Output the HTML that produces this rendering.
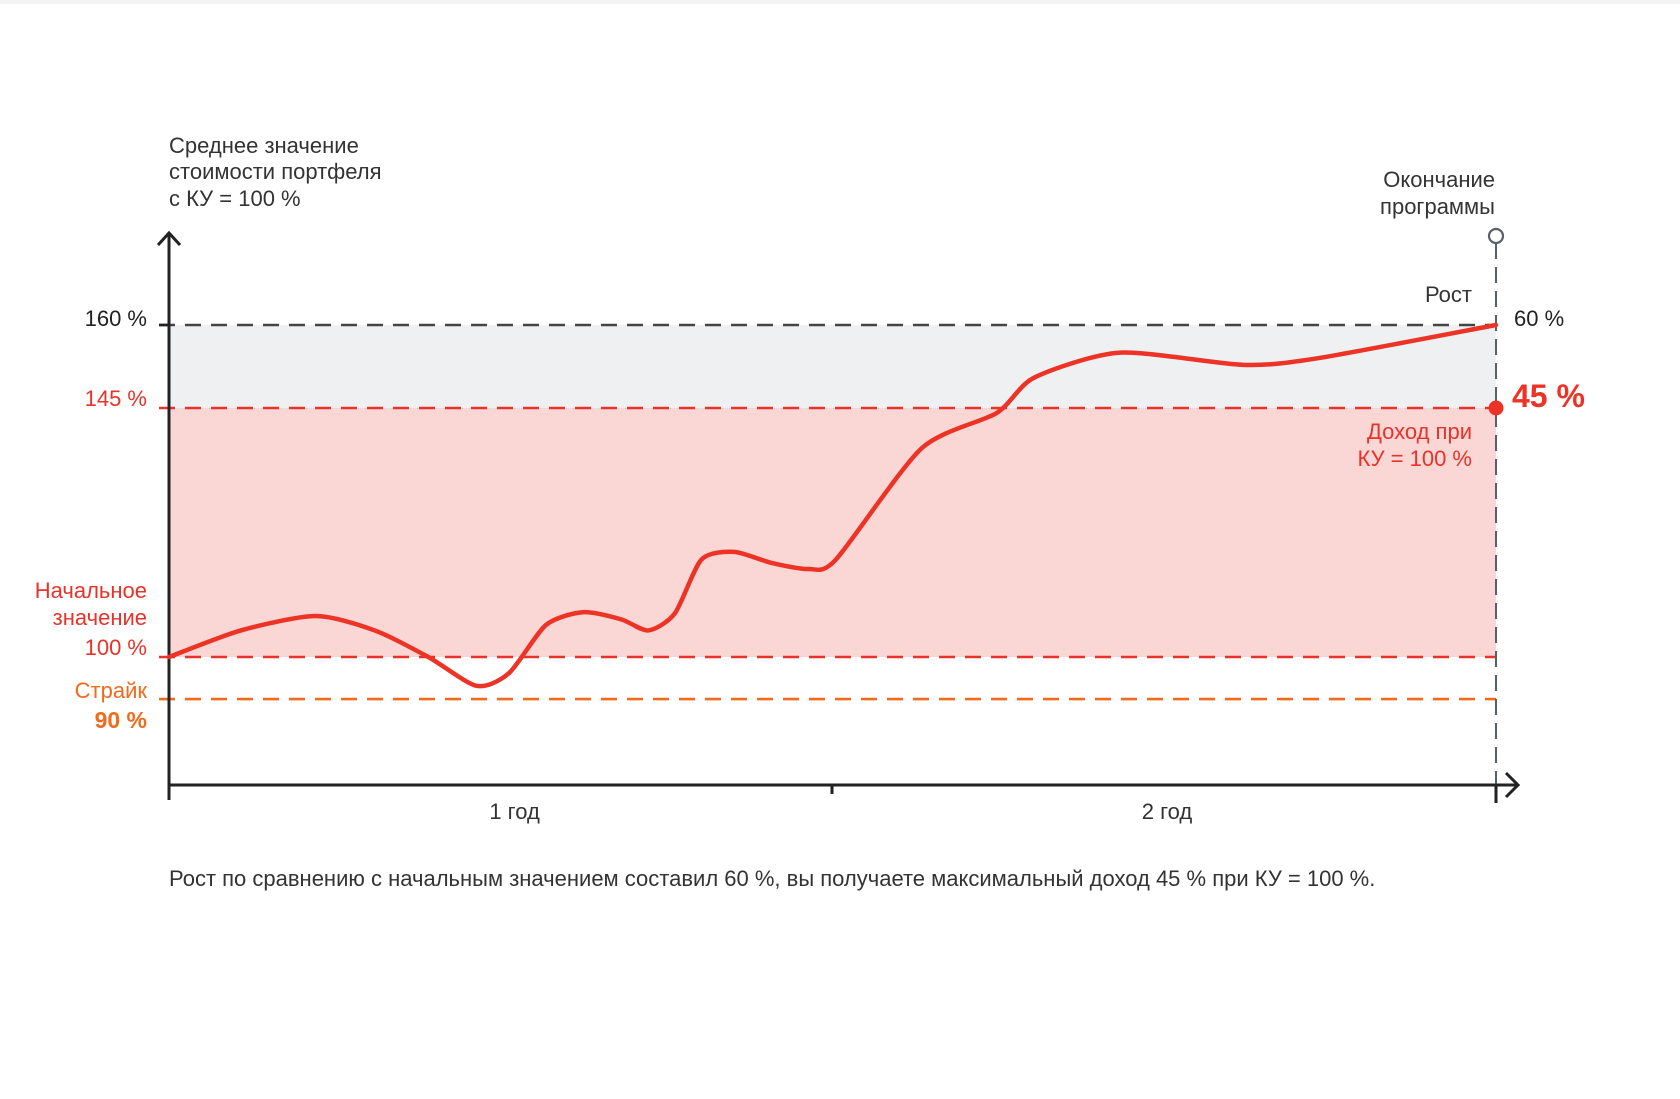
<!DOCTYPE html>
<html><head><meta charset="utf-8"><style>
html,body{margin:0;padding:0;background:#fff;}
svg{display:block;font-family:"Liberation Sans","DejaVu Sans",sans-serif;}
</style></head><body>
<svg id="chart" width="1680" height="1099" viewBox="0 0 1680 1099" xmlns="http://www.w3.org/2000/svg">
<rect width="1680" height="4" fill="#f4f4f4"/>
<g id="g"></g>
</svg>
<script>
const months=[0,1.3,2.65,3.72,4.69,5.56,6.15,6.82,7.5,8.18,8.67,9.15,9.63,10.22,10.9,11.57,12.06,13.61,14.97,15.65,17.2,19.43,20.78,24];
const values=[100,104.8,107.4,104.8,100,94.8,97.1,105.8,108.1,106.8,104.8,107.9,117.6,119,117,115.9,117.6,137.7,144.1,150.5,155,152.8,154,160];
const levels=[160,145,100,92.4];
const xTickLabels=["1 год","2 год"];
const xTickMonths=[6.25,18.05];

const X0=169,X1=1496,T=24;
const Y100=657,PX=(657-325)/60;
const xs=t=>X0+(X1-X0)*t/T;
const ys=v=>Y100-(v-100)*PX;
const NS="http://www.w3.org/2000/svg";
const g=document.getElementById('g');
function el(tag,attrs,txt){const e=document.createElementNS(NS,tag);for(const k in attrs)e.setAttribute(k,attrs[k]);if(txt!==undefined)e.textContent=txt;g.appendChild(e);return e;}

let e;
e=el('rect',{x:X0,y:ys(levels[0]),width:X1-X0,height:ys(levels[1])-ys(levels[0]),fill:'#eef0f2'});


e=el('rect',{x:X0,y:ys(levels[1]),width:X1-X0,height:ys(levels[2])-ys(levels[1]),fill:'#fad6d4'});



const lc=['#444','#e8332a','#e8332a','#f26a1b'];
const ln=['level-160','level-145','level-100','level-strike'];
levels.forEach((v,i)=>{
  const l=el('line',{x1:X0-10,x2:X1,y1:ys(v),y2:ys(v),stroke:lc[i],'stroke-width':2.6,'stroke-dasharray':'16 10'});
  
  
});
el('line',{x1:X0-10,x2:X0,y1:ys(160),y2:ys(160),stroke:'#222','stroke-width':2.6});

e=el('line',{x1:X1,x2:X1,y1:243,y2:800,stroke:'#5a6068','stroke-width':2,'stroke-dasharray':'16 8'});


e=el('circle',{cx:X1,cy:236,r:7,fill:'#fff',stroke:'#5a6068','stroke-width':2.2});



e=el('path',{d:`M${X0} 800 L${X0} 233 M${X0-11} 245 L${X0} 233 L${X0+11} 245`,fill:'none',stroke:'#222','stroke-width':3});


e=el('path',{d:`M${X0} 785 L1518 785 M1506 773 L1518 785 L1506 797 M832 785 L832 794 M${X1} 785 L${X1} 803`,fill:'none',stroke:'#222','stroke-width':3});



xTickLabels.forEach((s,i)=>{
  const t=el('text',{x:xs(xTickMonths[i]),y:819,'font-size':22,fill:'#333','text-anchor':'middle'},s);
  
  
});

const P=months.map((m,i)=>[xs(m),ys(values[i])]);
const k=8;
let d=`M${P[0][0]} ${P[0][1]}`;
for(let i=0;i<P.length-1;i++){
  const p0=P[i-1]||P[i],p1=P[i],p2=P[i+1],p3=P[i+2]||P[i+1];
  const c1=[p1[0]+(p2[0]-p0[0])/k,p1[1]+(p2[1]-p0[1])/k];
  const c2=[p2[0]-(p3[0]-p1[0])/k,p2[1]-(p3[1]-p1[1])/k];
  d+=` C${c1[0]} ${c1[1]} ${c2[0]} ${c2[1]} ${p2[0]} ${p2[1]}`;
}
e=el('path',{d:d,fill:'none',stroke:'#ec3326','stroke-width':4.5,'stroke-linejoin':'round','stroke-linecap':'round'});



e=el('circle',{cx:X1,cy:ys(145),r:7.5,fill:'#ec3326'});



function txt(x,y,s,o,name){const t=el('text',Object.assign({x:x,y:y,'font-size':22,fill:'#333'},o),s);return t;}
txt(169,153,'Среднее значение',{},'y-axis-title');
txt(169,179,'стоимости портфеля',{},'y-axis-title');
txt(169,206,'с КУ = 100 %',{},'y-axis-title');
txt(147,326,'160 %',{'text-anchor':'end',fill:'#222'},'label-160');
txt(147,406,'145 %',{'text-anchor':'end',fill:'#e8332a'},'label-145');
txt(147,598,'Начальное',{'text-anchor':'end',fill:'#e8332a'},'label-start');
txt(147,625,'значение',{'text-anchor':'end',fill:'#e8332a'},'label-start');
txt(147,655,'100 %',{'text-anchor':'end',fill:'#e8332a'},'label-100');
txt(147,698,'Страйк',{'text-anchor':'end',fill:'#f26a1b'},'label-strike');
txt(147,728,'90 %',{'text-anchor':'end',fill:'#f26a1b','font-weight':'bold','font-size':23},'label-strike-value');
txt(1495,187,'Окончание',{'text-anchor':'end'},'end-label');
txt(1495,214,'программы',{'text-anchor':'end'},'end-label');
txt(1472,302,'Рост',{'text-anchor':'end'},'growth-label');
txt(1514,326,'60 %',{fill:'#222'},'growth-value');
txt(1512,407,'45 %',{fill:'#ec3326','font-weight':'bold','font-size':32},'income-value');
txt(1472,439,'Доход при',{'text-anchor':'end',fill:'#e8332a'},'income-label');
txt(1472,466,'КУ = 100 %',{'text-anchor':'end',fill:'#e8332a'},'income-label');
txt(169,886,'Рост по сравнению с начальным значением составил 60 %, вы получаете максимальный доход 45 % при КУ = 100 %.',{},'caption');
</script>
</body></html>
